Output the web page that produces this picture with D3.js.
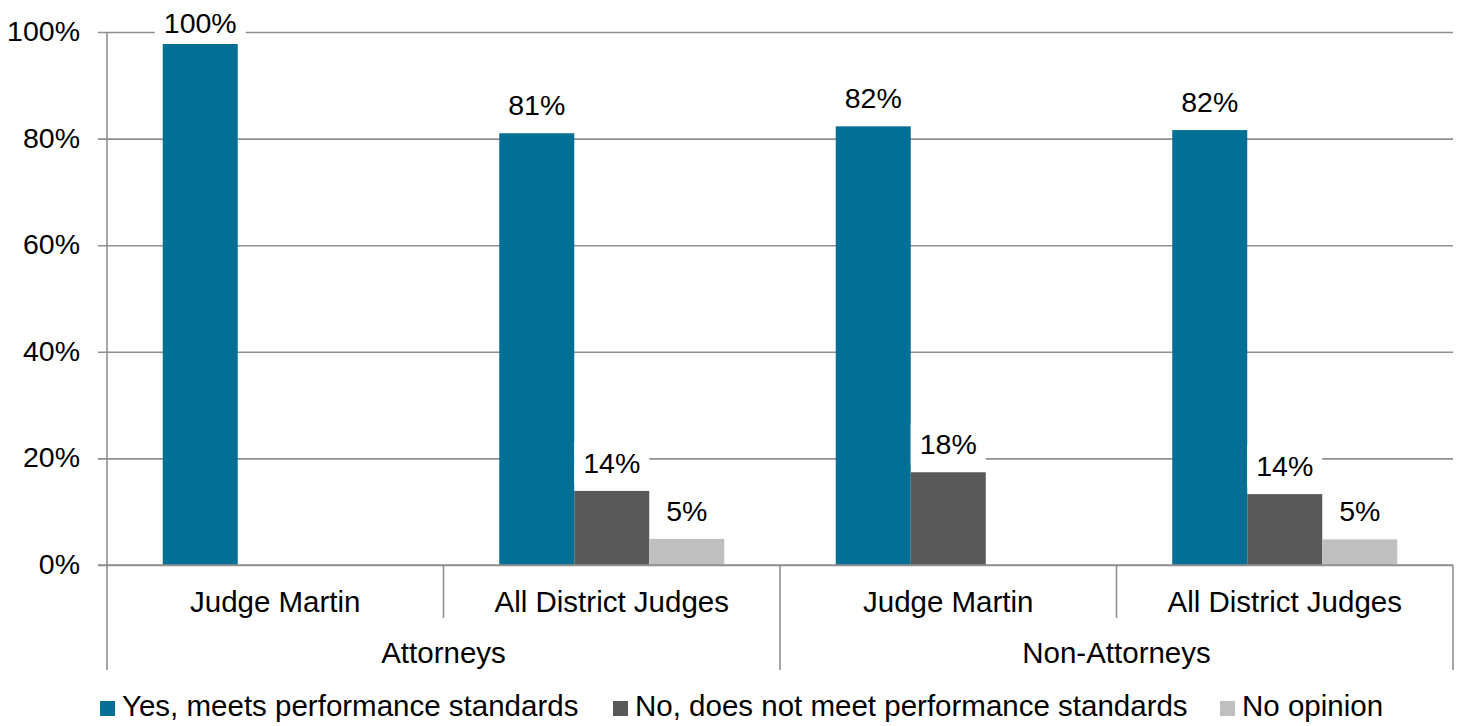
<!DOCTYPE html>
<html>
<head>
<meta charset="utf-8">
<script src="https://cdn.jsdelivr.net/npm/d3@7"></script>
<style>
  body { margin: 0; background: #fff; }
  text { font-family: "Liberation Sans", Arial, sans-serif; fill: #000; }
</style>
</head>
<body>
<script>
// data
var groups = ['Attorneys', 'Non-Attorneys'];
var categories = ['Judge Martin', 'All District Judges', 'Judge Martin', 'All District Judges'];
var categoryGroup = [0, 0, 1, 1];
var series = ['Yes, meets performance standards', 'No, does not meet performance standards', 'No opinion'];
var colors = ['#046f95', '#595959', '#bfbfbf'];
var yesValues = [0.978, 0.81, 0.823, 0.816];
var noValues = [null, 0.139, 0.174, 0.133];
var noOpinionValues = [null, 0.049, null, 0.048];
var yesLabels = ['100%', '81%', '82%', '82%'];
var noLabels = [null, '14%', '18%', '14%'];
var noOpinionLabels = [null, '5%', null, '5%'];
var yTicks = [0, 0.2, 0.4, 0.6, 0.8, 1];

var values = [yesValues, noValues, noOpinionValues];
var labels = [yesLabels, noLabels, noOpinionLabels];

var W = 1460, H = 726;
var plotLeft = 107, plotRight = 1453, plotTop = 32, plotBottom = 565;

var svg = d3.select("body").append("svg")
			.attr("width", W)
			.attr("height", H);

var y = d3.scaleLinear().domain([0, 1]).range([plotBottom, plotTop]);

var idx = d3.range(categories.length);
var x0 = d3.scaleBand()
				.domain(idx)
				.range([plotLeft, plotRight])
				.padding(0);

var x1 = d3.scaleBand()
				.domain(d3.range(series.length))
				.range([0, x0.bandwidth()])
				.paddingInner(0)
				.paddingOuter(0.743);

// gridlines + y axis
var yAxis = d3.axisLeft(y)
				.tickValues(yTicks)
				.tickFormat(d3.format(".0%"))
				.tickSizeInner(-(plotRight - plotLeft))
				.tickSizeOuter(0)
				.tickPadding(27);

var yg = svg.append("g")
		.attr("transform", "translate(" + plotLeft + ",0)")
		.call(yAxis);
yg.select(".domain").remove();
yg.selectAll(".tick line")
		.attr("x1", -9)
		.attr("stroke", "#8f8f8f")
		.attr("stroke-width", 1.6);
yg.selectAll(".tick text")
		.attr("font-size", 28.5)
		.attr("dy", "0.3em")
		.style("font-family", '"Liberation Sans", Arial, sans-serif')
		.attr("fill", "#000");

// bars
series.forEach(function(s, si) {
	var data = idx.filter(function(i){ return values[si][i] != null; });
	svg.selectAll("rect.s" + si)
		.data(data)
		.enter().append("rect")
					.attr("class", "s" + si)
					.attr("x", function(d){ return x0(d) + x1(si); })
					.attr("y", function(d){ return y(values[si][d]); })
					.attr("width", x1.bandwidth())
					.attr("height", function(d){ return plotBottom - y(values[si][d]); })
					.attr("fill", colors[si]);
});

// data labels with white boxes
series.forEach(function(s, si) {
	var data = idx.filter(function(i){ return labels[si][i] != null; });
	var g = svg.selectAll("g.lab" + si)
		.data(data)
		.enter().append("g")
					.attr("class", "lab" + si)
					.attr("transform", function(d){
						var cx = x0(d) + x1(si) + x1.bandwidth() / 2;
						var by = Math.max(y(values[si][d]) - 18, plotTop + 1);
						return "translate(" + cx + "," + by + ")";
					});
	g.append("rect")
		.attr("fill", "#fff");
	g.append("text")
		.attr("text-anchor", "middle")
		.attr("font-size", 28.5)
		.text(function(d){ return labels[si][d]; });
	g.each(function() {
		var b = d3.select(this).select("text").node().getBBox();
		d3.select(this).select("rect")
			.attr("x", b.x - 9).attr("y", b.y - 5)
			.attr("width", b.width + 18).attr("height", b.height + 10);
	});
});

// x axis baseline and separators
svg.append("line")
	.attr("x1", plotLeft - 9).attr("x2", plotRight)
	.attr("y1", plotBottom).attr("y2", plotBottom)
	.attr("stroke", "#8f8f8f").attr("stroke-width", 1.6);

svg.append("line")
	.attr("x1", plotLeft).attr("x2", plotLeft)
	.attr("y1", plotTop).attr("y2", plotBottom)
	.attr("stroke", "#8f8f8f").attr("stroke-width", 1.6);

var seps = d3.range(categories.length + 1);
svg.selectAll("line.sep")
	.data(seps)
	.enter().append("line")
		.attr("class", "sep")
		.attr("x1", function(d){ return d < categories.length ? x0(d) : plotRight; })
		.attr("x2", function(d){ return d < categories.length ? x0(d) : plotRight; })
		.attr("y1", plotBottom)
		.attr("y2", function(d){ return d % 2 === 0 ? 670 : 618; })
		.attr("stroke", "#8f8f8f").attr("stroke-width", 1.6);

svg.selectAll("text.cat")
	.data(idx)
	.enter().append("text")
		.attr("class", "cat")
		.attr("x", function(d){ return x0(d) + x0.bandwidth() / 2; })
		.attr("y", 612)
		.attr("text-anchor", "middle")
		.attr("font-size", 29.5)
		.text(function(d){ return categories[d]; });

svg.selectAll("text.grp")
	.data(groups)
	.enter().append("text")
		.attr("class", "grp")
		.attr("x", function(d, gi){
			var ids = idx.filter(function(i){ return categoryGroup[i] === gi; });
			return (x0(ids[0]) + x0(ids[ids.length - 1]) + x0.bandwidth()) / 2;
		})
		.attr("y", 663)
		.attr("text-anchor", "middle")
		.attr("font-size", 29.5)
		.text(function(d){ return d; });

// legend
var legendX = [100, 613, 1220];
var lg = svg.selectAll("g.legend")
	.data(series)
	.enter().append("g")
		.attr("class", "legend")
		.attr("transform", function(d, i){ return "translate(" + legendX[i] + ",701)"; });
lg.append("rect")
	.attr("width", 15).attr("height", 15)
	.attr("fill", function(d, i){ return colors[i]; });
lg.append("text")
	.attr("x", 22)
	.attr("y", 15)
	.attr("font-size", 29.5)
	.text(function(d){ return d; });
</script>
</body>
</html>
